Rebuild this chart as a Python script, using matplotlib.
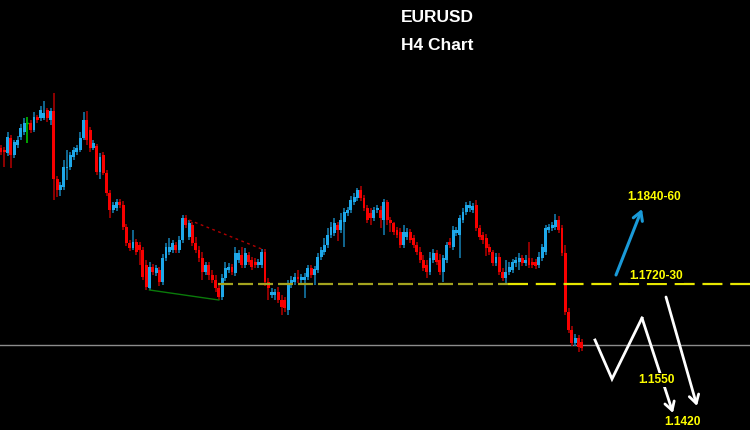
import matplotlib
matplotlib.use("Agg")
import matplotlib.pyplot as plt

plt.rcParams['font.family'] = ['Liberation Sans', 'DejaVu Sans']

# ---------------- data (EURUSD H4 candles) ----------------
opens = [1.1861, 1.1859, 1.1856, 1.1871, 1.1854, 1.1864, 1.1872, 1.1877, 1.1886, 1.1886,
         1.1879, 1.1892, 1.1891, 1.1891, 1.1899, 1.1889, 1.1898, 1.1830, 1.1819, 1.1822,
         1.1841, 1.1842, 1.1852, 1.1857, 1.1859, 1.1871, 1.1889, 1.1879, 1.1861, 1.1863,
         1.1837, 1.1854, 1.1836, 1.1816, 1.1799, 1.1801, 1.1807, 1.1804, 1.1782, 1.1766,
         1.1761, 1.1767, 1.1764, 1.1759, 1.1744, 1.1721, 1.1742, 1.1736, 1.1739, 1.1727,
         1.1751, 1.1757, 1.1759, 1.1764, 1.1759, 1.1769, 1.1791, 1.1772, 1.1784, 1.1766,
         1.1759, 1.1751, 1.1737, 1.1744, 1.1734, 1.1729, 1.1721, 1.1712, 1.1731, 1.1739,
         1.1742, 1.1736, 1.1749, 1.1754, 1.1744, 1.1754, 1.1749, 1.1747, 1.1744, 1.1744,
         1.1757, 1.1727, 1.1714, 1.1714, 1.1717, 1.1709, 1.1709, 1.1699, 1.1724, 1.1727,
         1.1732, 1.1729, 1.1729, 1.1732, 1.1741, 1.1734, 1.1739, 1.1752, 1.1757, 1.1764,
         1.1774, 1.1776, 1.1784, 1.1779, 1.1787, 1.1796, 1.1799, 1.1807, 1.1811, 1.1819,
         1.1811, 1.1801, 1.1796, 1.1791, 1.1799, 1.1799, 1.1789, 1.1807, 1.1789, 1.1786,
         1.1779, 1.1777, 1.1764, 1.1772, 1.1777, 1.1771, 1.1764, 1.1757, 1.1749, 1.1744,
         1.1737, 1.1749, 1.1756, 1.1749, 1.1737, 1.1749, 1.1767, 1.1762, 1.1776, 1.1774,
         1.1789, 1.1797, 1.1801, 1.1799, 1.1804, 1.1781, 1.1774, 1.1771, 1.1762, 1.1757,
         1.1746, 1.1752, 1.1737, 1.1731, 1.1737, 1.1739, 1.1746, 1.1747, 1.1751, 1.1746,
         1.1751, 1.1747, 1.1747, 1.1744, 1.1751, 1.1757, 1.1779, 1.1781, 1.1782, 1.1789,
         1.1781, 1.1756, 1.1697, 1.1679, 1.1666, 1.1671, 1.1667]
closes = [1.1857, 1.1857, 1.1872, 1.1854, 1.1867, 1.1869, 1.1881, 1.1886, 1.1886, 1.1879,
          1.1892, 1.1889, 1.1899, 1.1896, 1.1891, 1.1898, 1.1830, 1.1819, 1.1824, 1.1842,
          1.1842, 1.1854, 1.1859, 1.1861, 1.1871, 1.1889, 1.1869, 1.1861, 1.1866, 1.1837,
          1.1852, 1.1836, 1.1816, 1.1799, 1.1804, 1.1807, 1.1804, 1.1782, 1.1766, 1.1761,
          1.1767, 1.1757, 1.1759, 1.1732, 1.1722, 1.1742, 1.1737, 1.1741, 1.1727, 1.1751,
          1.1762, 1.1762, 1.1766, 1.1759, 1.1769, 1.1791, 1.1784, 1.1786, 1.1766, 1.1759,
          1.1751, 1.1737, 1.1744, 1.1734, 1.1729, 1.1721, 1.1712, 1.1731, 1.1741, 1.1742,
          1.1737, 1.1756, 1.1756, 1.1744, 1.1756, 1.1747, 1.1742, 1.1744, 1.1747, 1.1757,
          1.1727, 1.1721, 1.1717, 1.1717, 1.1709, 1.1702, 1.1701, 1.1724, 1.1729, 1.1732,
          1.1730, 1.1732, 1.1732, 1.1741, 1.1734, 1.1740, 1.1752, 1.1759, 1.1764, 1.1774,
          1.1782, 1.1786, 1.1779, 1.1789, 1.1797, 1.1799, 1.1809, 1.1812, 1.1819, 1.1811,
          1.1801, 1.1789, 1.1791, 1.1799, 1.1801, 1.1791, 1.1807, 1.1789, 1.1786, 1.1777,
          1.1774, 1.1764, 1.1777, 1.1777, 1.1769, 1.1764, 1.1757, 1.1749, 1.1741, 1.1737,
          1.1751, 1.1756, 1.1747, 1.1737, 1.1751, 1.1764, 1.1764, 1.1779, 1.1779, 1.1791,
          1.1797, 1.1804, 1.1804, 1.1803, 1.1781, 1.1772, 1.1769, 1.1761, 1.1757, 1.1746,
          1.1752, 1.1737, 1.1731, 1.1737, 1.1742, 1.1747, 1.1749, 1.1751, 1.1746, 1.1749,
          1.1744, 1.1744, 1.1743, 1.1752, 1.1762, 1.1781, 1.1782, 1.1784, 1.1789, 1.1779,
          1.1756, 1.1697, 1.1679, 1.1666, 1.1671, 1.1662, 1.1661]
highs = [1.1864, 1.1862, 1.1877, 1.1874, 1.1869, 1.1873, 1.1885, 1.1891, 1.1892, 1.1889,
         1.1897, 1.1894, 1.1903, 1.1908, 1.1901, 1.1901, 1.1916, 1.1833, 1.1827, 1.1849,
         1.1859, 1.1857, 1.1862, 1.1864, 1.1877, 1.1897, 1.1898, 1.1882, 1.1869, 1.1865,
         1.1856, 1.1857, 1.1839, 1.1819, 1.1807, 1.1810, 1.1810, 1.1808, 1.1785, 1.1769,
         1.1779, 1.1770, 1.1767, 1.1762, 1.1749, 1.1747, 1.1745, 1.1744, 1.1742, 1.1755,
         1.1766, 1.1771, 1.1769, 1.1767, 1.1773, 1.1794, 1.1794, 1.1789, 1.1787, 1.1772,
         1.1763, 1.1757, 1.1747, 1.1747, 1.1739, 1.1734, 1.1725, 1.1735, 1.1747, 1.1746,
         1.1745, 1.1762, 1.1759, 1.1762, 1.1761, 1.1757, 1.1752, 1.1751, 1.1750, 1.1760,
         1.1760, 1.1731, 1.1721, 1.1720, 1.1722, 1.1714, 1.1712, 1.1729, 1.1733, 1.1736,
         1.1739, 1.1735, 1.1736, 1.1744, 1.1744, 1.1743, 1.1756, 1.1762, 1.1771, 1.1781,
         1.1787, 1.1791, 1.1787, 1.1796, 1.1801, 1.1802, 1.1813, 1.1816, 1.1821, 1.1823,
         1.1814, 1.1804, 1.1801, 1.1802, 1.1804, 1.1803, 1.1810, 1.1809, 1.1792, 1.1787,
         1.1782, 1.1781, 1.1784, 1.1781, 1.1780, 1.1774, 1.1767, 1.1762, 1.1754, 1.1749,
         1.1757, 1.1760, 1.1759, 1.1755, 1.1754, 1.1767, 1.1771, 1.1783, 1.1782, 1.1794,
         1.1801, 1.1807, 1.1808, 1.1806, 1.1809, 1.1784, 1.1777, 1.1775, 1.1765, 1.1759,
         1.1756, 1.1756, 1.1741, 1.1749, 1.1747, 1.1750, 1.1752, 1.1756, 1.1754, 1.1754,
         1.1767, 1.1751, 1.1750, 1.1757, 1.1765, 1.1784, 1.1785, 1.1787, 1.1795, 1.1793,
         1.1784, 1.1764, 1.1701, 1.1683, 1.1675, 1.1674, 1.1670]
lows = [1.1854, 1.1842, 1.1853, 1.1841, 1.1851, 1.1861, 1.1869, 1.1874, 1.1866, 1.1876,
        1.1877, 1.1886, 1.1888, 1.1889, 1.1887, 1.1884, 1.1809, 1.1812, 1.1813, 1.1819,
        1.1829, 1.1839, 1.1849, 1.1854, 1.1857, 1.1869, 1.1864, 1.1857, 1.1859, 1.1834,
        1.1830, 1.1834, 1.1813, 1.1791, 1.1796, 1.1798, 1.1801, 1.1779, 1.1763, 1.1758,
        1.1759, 1.1754, 1.1744, 1.1729, 1.1719, 1.1719, 1.1734, 1.1733, 1.1723, 1.1724,
        1.1748, 1.1754, 1.1756, 1.1756, 1.1756, 1.1766, 1.1781, 1.1769, 1.1763, 1.1756,
        1.1747, 1.1729, 1.1734, 1.1729, 1.1726, 1.1717, 1.1709, 1.1709, 1.1728, 1.1736,
        1.1734, 1.1733, 1.1746, 1.1741, 1.1741, 1.1744, 1.1739, 1.1741, 1.1741, 1.1741,
        1.1723, 1.1709, 1.1711, 1.1709, 1.1706, 1.1694, 1.1697, 1.1694, 1.1721, 1.1724,
        1.1726, 1.1726, 1.1711, 1.1729, 1.1731, 1.1724, 1.1736, 1.1749, 1.1754, 1.1761,
        1.1771, 1.1773, 1.1768, 1.1776, 1.1762, 1.1793, 1.1796, 1.1804, 1.1808, 1.1808,
        1.1798, 1.1786, 1.1784, 1.1788, 1.1796, 1.1781, 1.1774, 1.1784, 1.1777, 1.1774,
        1.1771, 1.1761, 1.1761, 1.1769, 1.1766, 1.1761, 1.1754, 1.1746, 1.1738, 1.1731,
        1.1734, 1.1746, 1.1744, 1.1734, 1.1727, 1.1746, 1.1761, 1.1759, 1.1773, 1.1751,
        1.1786, 1.1794, 1.1797, 1.1796, 1.1778, 1.1769, 1.1765, 1.1753, 1.1754, 1.1743,
        1.1743, 1.1734, 1.1728, 1.1724, 1.1734, 1.1736, 1.1742, 1.1739, 1.1743, 1.1743,
        1.1741, 1.1741, 1.1740, 1.1741, 1.1748, 1.1754, 1.1776, 1.1778, 1.1779, 1.1776,
        1.1753, 1.1694, 1.1676, 1.1663, 1.1663, 1.1657, 1.1658]

support_price = 1.1725      # 1.1720-30 zone (dashed)
current_price = 1.1664      # grey horizontal line
labels = ["1.1840-60", "1.1720-30", "1.1550", "1.1420"]
title_lines = ["EURUSD", "H4 Chart"]

# ---------------- figure ----------------
W, H = 750, 430
fig = plt.figure(figsize=(W / 100, H / 100), dpi=100, facecolor='black')
ax = fig.add_axes([0, 0, 1, 1], facecolor='black')
ax.set_axis_off()

X0, DX = 1.0, 3.3          # pixel position of first candle and spacing
P_TOP, P_PER_PX = 1.2009, 0.0001
ax.set_xlim((0 - X0) / DX, (W - X0) / DX)
ax.set_ylim(P_TOP - H * P_PER_PX, P_TOP)


def px(x, y):
    """pixel position of an annotation -> data coordinates"""
    return (x - X0) / DX, P_TOP - y * P_PER_PX


n = len(opens)
idx = list(range(n))
bull_body, bull_wick = '#1ea8ea', '#1478a8'
bear_body, bear_wick = '#f80000', '#a80000'
doji = '#00c000'

for i in idx:
    o, c, h, l = opens[i], closes[i], highs[i], lows[i]
    if c > o:
        bc, wc = bull_body, bull_wick
    elif c < o:
        bc, wc = bear_body, bear_wick
    else:
        bc, wc = doji, doji
    ax.vlines(i, l, h, color=wc, lw=1.2, zorder=2)
    hgt = c - o
    if hgt == 0:
        ax.hlines(o, i - 0.45, i + 0.45, color=bc, lw=1.0, zorder=3)
    else:
        ax.bar(i, hgt, bottom=o, width=0.9, color=bc, lw=0, zorder=3)

# horizontal lines
ax.axhline(current_price, color='#8c8c8c', lw=1.0, zorder=1)
x_a, _ = px(218, 0)
x_b, _ = px(508, 0)
x_c, _ = px(750, 0)
ax.plot([x_a, x_b], [support_price, support_price], color='#a3a31e', lw=1.6,
        dashes=(6.75, 2.25), zorder=4)
ax.plot([x_b, x_c], [support_price, support_price], color='#e6e600', lw=1.6,
        dashes=(9, 3.5), zorder=4)

# trendlines from candle extremes
ax.plot([45, 66], [lows[45], lows[66]], color='#0a7a0a', lw=1.0, zorder=4)
ax.plot([57, 79], [highs[57], highs[79]], color='#b00000', lw=1.0, ls=(0, (2, 2.5)),
        zorder=4)

# arrows
def arrow(p0, p1, color, lw=2.0):
    ax.annotate('', xy=px(*p1), xytext=px(*p0),
                arrowprops=dict(arrowstyle='->,head_length=0.6,head_width=0.35',
                                color=color, lw=lw, shrinkA=0, shrinkB=0),
                zorder=6)

arrow((616, 275), (642, 209), '#1a9ad8', 2.2)
zig = [(595, 340), (612, 379), (642, 318)]
ax.plot([px(*p)[0] for p in zig], [px(*p)[1] for p in zig], color='white', lw=2.0,
        solid_joinstyle='miter', zorder=6)
arrow((642, 318), (673, 413), 'white', 2.0)
arrow((666, 297), (697, 406), 'white', 2.0)

# labels
lab_pos = [(654, 197), (656, 276), (656, 380), (682, 422)]
for t, p in zip(labels, lab_pos):
    ax.text(*px(*p), t, color='#ffff00', fontsize=8.6, fontweight='bold',
            ha='center', va='center', zorder=8,
            bbox=dict(facecolor='black', edgecolor='none', pad=1.0))

# title
fig.text(437 / W, 1 - 17 / H, title_lines[0], color='white', fontsize=12.5,
         fontweight='bold', ha='center', va='center')
fig.text(437 / W, 1 - 45 / H, title_lines[1], color='white', fontsize=12.5,
         fontweight='bold', ha='center', va='center')

fig.savefig('out.png', dpi=100, facecolor='black')
